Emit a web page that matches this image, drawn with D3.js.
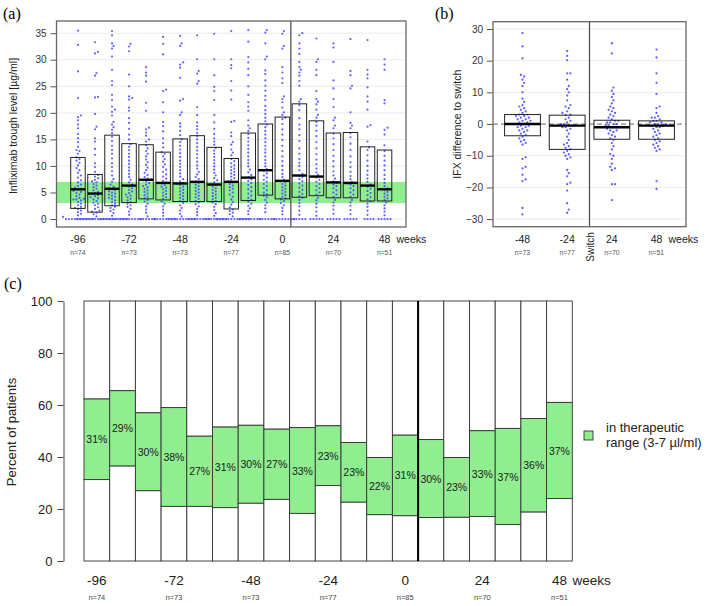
<!DOCTYPE html>
<html><head><meta charset="utf-8">
<script src="https://cdn.jsdelivr.net/npm/d3@7"></script>
<style>
body{margin:0;background:#fff;}
svg{display:block;font-family:"Liberation Sans",Arial,sans-serif;}
</style></head>
<body><svg id="c" width="706" height="606"></svg>
<script>
// ---------- DATA ----------
const weeks = [-96,-88,-80,-72,-64,-56,-48,-40,-32,-24,-16,-8,0,8,16,24,32,40,48];
const tickWeeks = [-96,-72,-48,-24,0,24,48];
const tickLabels = ["-96","-72","-48","-24","0","24","48"];
const nLabels = ["n=74","n=73","n=73","n=77","n=85","n=70","n=51"];

// panel (a) box statistics (Q1, median, Q3), µg/ml
const boxQ1  = [2.0,1.3,2.5,3.1,3.8,3.6,3.3,3.3,3.3,1.9,3.5,4.5,3.8,4.1,4.4,4.0,4.0,3.4,3.4];
const boxMed = [5.6,4.8,5.7,6.3,7.4,6.8,6.7,7.0,6.5,7.0,7.8,9.2,7.2,8.2,8.0,6.9,6.8,6.3,5.6];
const boxQ3  = [11.6,8.4,15.8,14.2,14.0,12.6,15.1,15.7,13.5,11.4,16.2,17.9,19.2,21.7,18.5,16.2,16.3,13.6,13.0];
const aYTicks = [0,5,10,15,20,25,30,35];

// panel (a) individual trough levels (estimated from dots)
const a_m96 = [0,0,0,0,0,0,0,0,0,0,0.4,0.7,1.0,1.3,1.6,1.9,2.1,2.3,2.6,2.9,3.2,3.5,3.7,3.7,3.8,4.0,4.3,4.6,4.9,5.1,5.3,5.5,5.7,5.9,6.2,6.5,6.9,7.3,7.8,8.2,8.7,9.2,9.6,10.1,10.6,11.0,11.3,11.6,12.3,12.8,13.0,13.6,14.5,15.2,16.0,17.1,17.8,18.6,19.2,19.5,22.8,27.8,32.8,35.5];
const a_m88 = [0,0,0,0,0,0,0,0,0,0,0,0,0,0,0.5,0.9,1.2,1.4,1.6,1.9,2.2,2.6,2.9,3.1,3.4,3.7,3.9,4.1,4.3,4.5,4.7,4.9,5.1,5.4,5.7,6.0,6.3,6.6,6.9,7.1,7.4,7.7,8.0,8.3,8.9,9.8,10.5,12.1,13.2,14.6,15.2,16.9,17.4,19.8,22.9,23.0,27.0,27.5,31.2,31.5,33.3];
const a_m80 = [0,0,0,0,0,0,0,0,0,0,0.6,1.1,1.5,1.8,2.1,2.3,2.6,2.9,3.2,3.5,3.8,4.0,4.2,4.4,4.6,4.8,5.0,5.2,5.4,5.6,5.8,6.1,6.5,7.0,7.5,8.2,9.0,9.8,10.5,11.4,12.3,13.0,13.8,14.7,15.5,16.2,16.8,17.3,17.8,18.3,19.5,20.2,20.6,21.2,22.4,23.4,25.2,26.0,28.1,30.6,32.1,32.6,33.1,34.6,35.4];
const a_m72 = [0,0,0,0,0,0,0,0,0.8,1.4,1.9,2.3,2.6,2.9,3.2,3.5,3.8,4.1,4.4,4.6,4.9,5.2,5.5,5.8,6.1,6.5,6.9,7.4,7.9,8.5,9.1,9.7,10.4,11.0,11.7,12.3,13.0,13.6,14.1,15.0,15.9,17.0,18.1,19.0,20.4,21.0,22.5,22.8,23.1,25.0,27.2,31.6,32.5,33.0];
const a_m64 = [0,0,0,0,0,0,0.5,1.2,1.8,2.4,2.9,3.3,3.6,3.9,4.2,4.5,4.8,5.1,5.4,5.7,6.0,6.2,6.5,6.8,7.1,7.3,7.6,7.9,8.3,8.7,9.2,9.7,10.2,10.7,11.2,11.8,12.3,12.8,13.3,13.9,14.6,15.0,15.7,16.3,16.9,17.2,20.4,21.9,25.9,27.0,27.6,28.6];
const a_m56 = [0,0,0,0,0,0,0,0,0.6,1.2,1.8,2.4,2.9,3.3,3.8,4.1,4.4,4.7,5.0,5.3,5.6,5.9,6.1,6.4,6.7,6.9,7.2,7.6,8.0,8.4,8.9,9.3,9.8,10.3,10.8,11.3,11.8,12.3,12.6,13.5,14.3,15.2,16.5,17.5,18.3,20.1,22.0,24.1,24.4,31.0,33.0,34.3];
const a_m48 = [0,0,0,0,0,0,0,0,0,0,0.5,1.0,1.6,2.1,2.6,3.0,3.4,3.7,4.0,4.3,4.6,4.9,5.2,5.5,5.8,6.1,6.4,6.6,6.8,7.1,7.5,8.0,8.6,9.2,9.8,10.4,11.0,11.7,12.4,13.1,13.8,14.5,15.0,15.8,16.6,17.4,18.0,19.6,20.1,22.3,22.6,26.6,28.5,29.1,29.5,32.6,33.1,34.5];
const a_m40 = [0,0,0,0,0,0,0,0,0.7,1.3,1.9,2.4,2.8,3.1,3.4,3.8,4.1,4.4,4.7,5.0,5.3,5.6,5.9,6.2,6.5,6.8,7.1,7.5,7.9,8.4,8.9,9.5,10.1,10.8,11.5,12.2,12.9,13.6,14.3,15.0,15.6,16.2,16.9,17.5,18.2,19.6,21.1,25.5,26.0,27.4,27.9,30.1,34.6];
const a_m32 = [0,0,0,0,0,0,0,0,0.6,1.1,1.7,2.3,2.8,3.1,3.4,3.7,4.0,4.3,4.6,4.9,5.2,5.5,5.8,6.1,6.4,6.6,6.9,7.3,7.7,8.2,8.7,9.3,9.9,10.5,11.1,11.7,12.3,12.9,13.4,14.0,14.6,15.2,16.0,17.0,18.2,19.6,22.4,24.1,24.9,27.1,30.1,34.9];
const a_m24 = [0,0,0,0,0,0,0,0,0,0,0,0,0.5,0.9,1.2,1.5,1.8,2.2,2.7,3.2,3.7,4.2,4.6,5.0,5.4,5.7,6.0,6.3,6.6,6.9,7.1,7.4,7.7,8.0,8.3,8.6,8.9,9.2,9.5,9.8,10.1,10.5,10.9,11.3,12.0,12.5,13.1,14.0,14.5,15.6,16.3,18.3,18.5,22.5,24.2,26.0,28.4,29.0,30.1,35.4];
const a_m16 = [0,0,0,0,0,0,0,0,0.9,1.5,2.0,2.5,2.9,3.3,3.6,4.0,4.4,4.8,5.2,5.6,6.0,6.4,6.8,7.2,7.5,7.9,8.3,8.8,9.3,9.9,10.5,11.1,11.8,12.5,13.2,13.9,14.6,15.3,16.0,16.6,17.1,17.6,18.6,20.4,21.2,22.0,23.4,25.0,27.1,28.3,29.5,30.5,33.4,35.6];
const a_m8  = [0,0,0,0,0,0,1.3,2.0,2.6,3.1,3.6,4.1,4.4,4.7,5.0,5.4,5.8,6.2,6.6,7.0,7.4,7.8,8.2,8.6,9.0,9.4,9.9,10.5,11.1,11.8,12.5,13.1,13.8,14.5,15.2,15.9,16.6,17.3,17.8,18.4,19.1,19.8,20.5,21.3,22.4,23.2,24.2,25.1,26.1,27.3,28.0,30.1,30.6,33.1,35.1,35.6];
const a_0   = [0,0,0,0,0,0,0,0,0.9,1.5,2.1,2.6,3.0,3.4,3.7,3.9,4.2,4.5,4.8,5.1,5.4,5.7,6.0,6.3,6.6,6.9,7.1,7.4,7.9,8.5,9.2,10.0,10.9,11.8,12.8,13.8,14.9,15.9,16.9,17.9,18.8,19.1,19.6,20.1,21.0,22.0,22.6,23.1,25.6,26.5,27.6,28.6,32.1,32.6,34.9,35.4];
const a_8   = [0,0,0,0,0,0.8,1.6,2.4,3.0,3.6,4.0,4.3,4.7,5.1,5.5,5.9,6.3,6.7,7.1,7.5,7.9,8.1,8.5,9.2,10.0,10.6,11.3,12.3,13.3,14.7,15.8,16.9,17.8,19.0,20.5,21.5,22.1,22.6,25.1,26.0,27.0,27.6,28.1,28.6,29.6,31.1,32.1,33.1,34.6,35.0];
const a_16  = [0,0,0,0,0,0.6,1.4,2.2,2.9,3.5,4.0,4.6,5.0,5.4,5.8,6.2,6.6,7.0,7.4,7.8,8.3,8.8,9.5,10.3,11.2,12.2,13.3,14.5,15.6,16.6,17.6,18.3,19.1,19.6,20.6,21.6,22.1,22.6,24.1,27.1,28.1,29.6,30.1,34.0];
const a_24  = [0,0,0,0,0,1.0,1.8,2.5,3.1,3.6,4.2,4.6,5.0,5.4,5.8,6.2,6.5,6.8,7.1,7.6,8.2,9.0,9.9,10.9,11.9,13.0,14.1,15.2,16.1,17.1,17.6,18.6,19.1,21.1,22.6,24.6,26.1,29.6,32.3,33.1];
const a_32  = [0,0,0,0,0,0.9,1.7,2.5,3.1,3.6,4.2,4.6,5.0,5.4,5.8,6.2,6.5,6.7,7.0,7.5,8.1,8.9,9.8,10.7,11.8,13.0,14.2,15.4,16.2,17.1,17.6,18.1,20.1,24.6,25.1,27.1,27.9,33.9];
const a_40  = [0,0,0,0,0.8,1.6,2.3,2.9,3.3,3.7,4.1,4.5,4.9,5.3,5.7,6.1,6.5,7.0,7.6,8.3,9.1,10.0,11.0,12.0,13.0,13.5,14.6,17.4,17.7,20.6,22.1,23.1,24.8,26.5,27.2,28.1,33.7];
const a_48  = [0,0,0,0,0,0.7,1.4,2.0,2.6,3.1,3.6,3.9,4.2,4.5,4.8,5.1,5.4,5.8,6.2,6.8,7.5,8.3,9.2,10.1,11.0,11.9,12.8,13.9,15.9,16.8,17.2,21.8,22.4,28.1,29.1,30.1];
const aGroups = [a_m96,a_m88,a_m80,a_m72,a_m64,a_m56,a_m48,a_m40,a_m32,a_m24,a_m16,a_m8,a_0,a_8,a_16,a_24,a_32,a_40,a_48];

// panel (b) differences to switch
const bLabels = ["-48","-24","24","48"];
const bN = ["n=73","n=77","n=70","n=51"];
const bQ1  = [-3.7,-8.0,-4.8,-4.8];
const bMed = [0.0,-0.5,-1.0,-0.5];
const bQ3  = [3.0,2.8,1.2,1.0];
const bYTicks = [-30,-20,-10,0,10,20,30];
const b_m48 = [28.7,24.5,20.7,15.5,15,14,13,12,10,8,7,6,5.5,5,4.5,4,3.5,3,3,2.5,2.5,2,2,1.5,1.5,1,1,0.5,0.5,0,0,0,0,-0.5,-0.5,-1,-1,-1.5,-2,-2,-2.5,-3,-3.5,-4,-4.5,-5,-5.5,-6,-6.5,-10.5,-11,-13.5,-14,-16,-17.5,-18,-26.5,-28.5];
const b_m24 = [23,21.5,20.2,16,16,14,12,11,10,9,7.5,6,5.5,5,4,3.5,3,2.8,2,1.5,1,0.5,0,0,-0.5,-0.5,-0.5,-1,-1,-1.5,-2,-3,-4,-5,-6,-6.5,-7,-7.5,-8,-8.5,-9,-9.5,-10,-10.5,-11,-14.5,-15.5,-16.5,-18.5,-19,-21,-25,-27,-28];
const b_24  = [25.5,22.3,11.5,10.5,9.5,8.5,7.5,6.5,5.5,5,4.5,4,3.5,3,2.5,2,1.5,1,1,0.5,0.5,0,0,-0.5,-0.5,-1,-1,-1,-1.5,-2,-2,-2.5,-3,-3.5,-4,-4.5,-5,-6,-7,-8,-9.5,-10,-11,-12.5,-13.5,-14,-14.5,-19,-19,-24];
const b_48  = [23.5,21,16,13,9.5,5.5,5,3.5,2.5,2,2,1.5,1,1,0.5,0.5,0,0,0,-0.5,-0.5,-0.5,-1,-1,-1.5,-2,-2.5,-3,-3.5,-4,-4.5,-5,-5.5,-6,-6.5,-7,-7.5,-8,-8.5,-18,-20.5];
const bGroups = [b_m48,b_m24,b_24,b_48];

// panel (c) percent of patients
const pctBelow = [31.3,36.5,27.0,21.0,21.0,20.5,22.2,23.7,18.3,29.0,22.6,17.8,17.4,16.7,16.8,17.1,14.0,18.8,24.0];
const pctIn    = [31,29,30,38,27,31,30,27,33,23,23,22,31,30,23,33,37,36,37];
const cYTicks = [0,20,40,60,80,100];

// ---------- DRAW ----------
const svg = d3.select("#c");
const BLUE = "#3b3bff";
const GREEN = "#90ee90";

function swarm(vals, yScale, d) {
  const pts = vals.map(v => ({v, y: yScale(v)})).sort((a, b) => b.y - a.y);
  const placed = [];
  pts.forEach(p => {
    for (let k = 0; k < 200; k++) {
      const off = k === 0 ? 0 : (k % 2 ? 1 : -1) * Math.ceil(k / 2) * d * 0.5;
      let ok = true;
      for (const q of placed) {
        const dy = q.y - p.y;
        if (Math.abs(dy) < d) {
          const dx = q.x - off;
          if (dx * dx + dy * dy < d * d * 0.999) { ok = false; break; }
        }
      }
      if (ok) { p.x = off; break; }
    }
    placed.push(p);
  });
  return placed;
}

// ===== Panel (a) =====
const aL = 56.5, aR = 406, aT = 21, aB = 227;
const ax = d3.scaleLinear().domain([-0.26, 20.26]).range([aL, aR]);
const ay = d3.scaleLinear().domain([-1.5, 37.3]).range([aB, aT]);
const gA = svg.append("g");
gA.selectAll("line.grid").data(aYTicks).join("line")
  .attr("x1", aL).attr("x2", aR).attr("y1", d => ay(d)).attr("y2", d => ay(d))
  .attr("stroke", "#ebebeb").attr("stroke-width", 1);
gA.append("rect").attr("x", aL).attr("width", aR - aL)
  .attr("y", ay(7)).attr("height", ay(3) - ay(7)).attr("fill", GREEN);
aGroups.forEach((vals, i) => {
  const cx = ax(i + 1);
  gA.append("g").selectAll("circle").data(swarm(vals, ay, 3.0)).join("circle")
    .attr("cx", d => cx + d.x).attr("cy", d => d.y).attr("r", 1.1)
    .attr("fill", BLUE).attr("fill-opacity", 0.8);
});
const bwA = 14.5;
gA.selectAll("rect.box").data(weeks).join("rect").attr("class", "box")
  .attr("x", (d, i) => ax(i + 1) - bwA / 2).attr("width", bwA)
  .attr("y", (d, i) => ay(boxQ3[i])).attr("height", (d, i) => ay(boxQ1[i]) - ay(boxQ3[i]))
  .attr("fill", "none").attr("stroke", "#222").attr("stroke-width", 1);
gA.selectAll("line.med").data(weeks).join("line").attr("class", "med")
  .attr("x1", (d, i) => ax(i + 1) - bwA / 2).attr("x2", (d, i) => ax(i + 1) + bwA / 2)
  .attr("y1", (d, i) => ay(boxMed[i])).attr("y2", (d, i) => ay(boxMed[i]))
  .attr("stroke", "#000").attr("stroke-width", 2.4);
gA.append("line").attr("x1", ax(13.5)).attr("x2", ax(13.5)).attr("y1", aT).attr("y2", aB)
  .attr("stroke", "#444").attr("stroke-width", 1.2);
gA.append("rect").attr("x", aL).attr("y", aT).attr("width", aR - aL).attr("height", aB - aT)
  .attr("fill", "none").attr("stroke", "#666").attr("stroke-width", 1.3);
const axA = gA.append("g").attr("transform", `translate(${aL},0)`)
  .call(d3.axisLeft(ay).tickValues(aYTicks).tickSize(6).tickPadding(4));
axA.select(".domain").remove();
axA.selectAll("text").attr("font-size", 10).attr("fill", "#333").attr("font-family", "Liberation Sans, Arial");
axA.selectAll("line").attr("stroke", "#555");
const tickIdx = tickWeeks.map(w => weeks.indexOf(w) + 1);
gA.selectAll("text.xl").data(tickIdx).join("text").attr("class", "xl")
  .attr("x", d => ax(d)).attr("y", 243).attr("text-anchor", "middle")
  .attr("font-size", 10.5).attr("fill", "#222").text((d, i) => tickLabels[i]);
gA.selectAll("text.nl").data(tickIdx).join("text").attr("class", "nl")
  .attr("x", d => ax(d)).attr("y", 255).attr("text-anchor", "middle")
  .attr("font-size", 6.8).attr("fill", "#555").text((d, i) => nLabels[i]);
gA.append("text").attr("x", ax(19) + 12).attr("y", 243).attr("font-size", 10.5).attr("fill", "#222").text("weeks");
gA.append("text").attr("transform", `translate(17,${(aT + aB) / 2 + 2}) rotate(-90)`)
  .attr("text-anchor", "middle").attr("font-size", 10.5).attr("fill", "#222")
  .text("Infliximab trough level [µg/ml]");
svg.append("text").attr("x", 3).attr("y", 19).attr("font-family", "Liberation Serif, DejaVu Serif, serif")
  .attr("font-size", 16).text("(a)");

// ===== Panel (b) =====
const bL = 493, bR = 686, bT = 21.7, bB = 226.7;
const bx = d3.scaleLinear().domain([0.34, 4.66]).range([bL, bR]);
const by = d3.scaleLinear().domain([-32.4, 32.3]).range([bB, bT]);
const gB = svg.append("g");
gB.selectAll("line.grid").data(bYTicks.filter(t => t !== 0)).join("line")
  .attr("x1", bL).attr("x2", bR).attr("y1", d => by(d)).attr("y2", d => by(d))
  .attr("stroke", "#ebebeb");
gB.append("line").attr("x1", bL).attr("x2", bR).attr("y1", by(0)).attr("y2", by(0))
  .attr("stroke", "#888").attr("stroke-width", 1.2).attr("stroke-dasharray", "5,3");
bGroups.forEach((vals, i) => {
  const cx = bx(i + 1);
  gB.append("g").selectAll("circle").data(swarm(vals, by, 3.2)).join("circle")
    .attr("cx", d => cx + d.x).attr("cy", d => d.y).attr("r", 1.15)
    .attr("fill", BLUE).attr("fill-opacity", 0.8);
});
const bwB = 35.8;
gB.selectAll("rect.box").data(bLabels).join("rect").attr("class", "box")
  .attr("x", (d, i) => bx(i + 1) - bwB / 2).attr("width", bwB)
  .attr("y", (d, i) => by(bQ3[i])).attr("height", (d, i) => by(bQ1[i]) - by(bQ3[i]))
  .attr("fill", "none").attr("stroke", "#222").attr("stroke-width", 1);
gB.selectAll("line.med").data(bLabels).join("line").attr("class", "med")
  .attr("x1", (d, i) => bx(i + 1) - bwB / 2).attr("x2", (d, i) => bx(i + 1) + bwB / 2)
  .attr("y1", (d, i) => by(bMed[i])).attr("y2", (d, i) => by(bMed[i]))
  .attr("stroke", "#000").attr("stroke-width", 2.4);
gB.append("line").attr("x1", bx(2.5)).attr("x2", bx(2.5)).attr("y1", bT).attr("y2", bB)
  .attr("stroke", "#444").attr("stroke-width", 1.2);
gB.append("rect").attr("x", bL).attr("y", bT).attr("width", bR - bL).attr("height", bB - bT)
  .attr("fill", "none").attr("stroke", "#666").attr("stroke-width", 1.3);
const axB = gB.append("g").attr("transform", `translate(${bL},0)`)
  .call(d3.axisLeft(by).tickValues(bYTicks).tickSize(6).tickPadding(4));
axB.select(".domain").remove();
axB.selectAll("text").attr("font-size", 10).attr("fill", "#333").attr("font-family", "Liberation Sans, Arial");
axB.selectAll("line").attr("stroke", "#555");
gB.selectAll("text.xl").data(bLabels).join("text").attr("class", "xl")
  .attr("x", (d, i) => bx(i + 1)).attr("y", 243).attr("text-anchor", "middle")
  .attr("font-size", 10.5).attr("fill", "#222").text(d => d);
gB.selectAll("text.nl").data(bN).join("text").attr("class", "nl")
  .attr("x", (d, i) => bx(i + 1)).attr("y", 255).attr("text-anchor", "middle")
  .attr("font-size", 6.8).attr("fill", "#555").text(d => d);
gB.append("text").attr("x", bx(4) + 12).attr("y", 243).attr("font-size", 10.5).attr("fill", "#222").text("weeks");
gB.append("text").attr("transform", `translate(${bx(2.5) + 4},247) rotate(-90)`)
  .attr("text-anchor", "middle").attr("font-size", 10).attr("fill", "#222").text("Switch");
gB.append("text").attr("transform", `translate(461,${(bT + bB) / 2}) rotate(-90)`)
  .attr("text-anchor", "middle").attr("font-size", 10.5).attr("fill", "#222")
  .text("IFX difference to switch");
svg.append("text").attr("x", 435).attr("y", 19).attr("font-family", "Liberation Serif, DejaVu Serif, serif")
  .attr("font-size", 16).text("(b)");

// ===== Panel (c) =====
const cxs = d3.scaleBand().domain(weeks).range([84, 572.3]).padding(0);
const cys = d3.scaleLinear().domain([0, 100]).range([561, 301]);
const gC = svg.append("g");
const bw = cxs.bandwidth();
weeks.forEach((w, i) => {
  const x = cxs(w), lo = pctBelow[i], hi = pctBelow[i] + pctIn[i];
  gC.append("rect").attr("x", x).attr("width", bw).attr("y", cys(100)).attr("height", cys(hi) - cys(100))
    .attr("fill", "#fff").attr("stroke", "#333").attr("stroke-width", 0.9);
  gC.append("rect").attr("x", x).attr("width", bw).attr("y", cys(hi)).attr("height", cys(lo) - cys(hi))
    .attr("fill", GREEN).attr("stroke", "#333").attr("stroke-width", 0.9);
  gC.append("rect").attr("x", x).attr("width", bw).attr("y", cys(lo)).attr("height", cys(0) - cys(lo))
    .attr("fill", "#fff").attr("stroke", "#333").attr("stroke-width", 0.9);
  gC.append("text").attr("x", x + bw / 2).attr("y", cys((lo + hi) / 2) + 4)
    .attr("text-anchor", "middle").attr("font-size", 10.5).attr("fill", "#1a1a1a").text(pctIn[i] + "%");
});
const sx = cxs(0) + bw;
gC.append("line").attr("x1", sx).attr("x2", sx).attr("y1", cys(0)).attr("y2", cys(100))
  .attr("stroke", "#000").attr("stroke-width", 2);
const axC = gC.append("g").attr("transform", "translate(63.5,0)")
  .call(d3.axisLeft(cys).tickValues(cYTicks).tickSize(6).tickSizeOuter(0).tickPadding(5));
axC.selectAll("text").attr("font-size", 13).attr("fill", "#222").attr("font-family", "Liberation Sans, Arial");
axC.selectAll("line").attr("stroke", "#444");
axC.select(".domain").attr("stroke", "#444");
gC.selectAll("text.xl").data(tickWeeks).join("text").attr("class", "xl")
  .attr("x", d => cxs(d) + bw / 2).attr("y", 585).attr("text-anchor", "middle")
  .attr("font-size", 13.5).attr("fill", "#222").text((d, i) => tickLabels[i]);
gC.selectAll("text.nl").data(tickWeeks).join("text").attr("class", "nl")
  .attr("x", d => cxs(d) + bw / 2).attr("y", 600).attr("text-anchor", "middle")
  .attr("font-size", 7.5).attr("fill", "#444").text((d, i) => nLabels[i]);
gC.append("text").attr("x", cxs(48) + bw / 2 + 13).attr("y", 585).attr("font-size", 13.5).attr("fill", "#222").text("weeks");
gC.append("text").attr("transform", "translate(16,432) rotate(-90)")
  .attr("text-anchor", "middle").attr("font-size", 13).attr("fill", "#222").text("Percent of patients");
gC.append("rect").attr("x", 584).attr("y", 431).attr("width", 9).attr("height", 9)
  .attr("fill", GREEN).attr("stroke", "#333").attr("stroke-width", 0.9);
gC.append("text").attr("x", 606).attr("y", 432).attr("font-size", 13).attr("fill", "#222").text("in therapeutic");
gC.append("text").attr("x", 606).attr("y", 447).attr("font-size", 13).attr("fill", "#222").text("range (3-7 µl/ml)");
svg.append("text").attr("x", 4).attr("y", 289).attr("font-family", "Liberation Serif, DejaVu Serif, serif")
  .attr("font-size", 16).text("(c)");
</script></body></html>
